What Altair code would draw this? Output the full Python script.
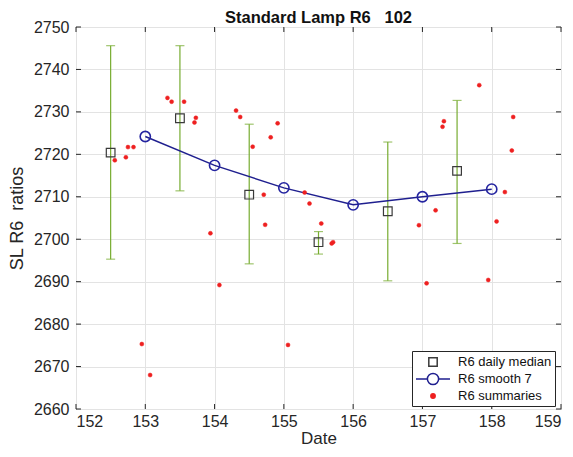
import altair as alt
import pandas as pd

# Daily medians with error bars
median_x = [152.5, 153.5, 154.5, 155.5, 156.5, 157.5]
median_y = [2720.4, 2728.5, 2710.5, 2699.3, 2706.6, 2716.1]
err_lo = [2695.3, 2711.4, 2694.2, 2696.5, 2690.2, 2699.0]
err_hi = [2745.6, 2745.6, 2727.1, 2701.8, 2722.9, 2732.7]

# Smooth 7
smooth_x = [153, 154, 155, 156, 157, 158]
smooth_y = [2724.2, 2717.4, 2712.1, 2708.1, 2710.0, 2711.8]

# Summaries
summ_x = [152.56, 152.72, 152.75, 152.83, 152.95, 153.07, 153.32, 153.38, 153.56,
          153.71, 153.73, 153.94, 154.07, 154.31, 154.37, 154.55, 154.71, 154.73,
          154.81, 154.91, 155.06, 155.30, 155.37, 155.54, 155.69, 155.71, 156.95,
          157.06, 157.19, 157.29, 157.31, 157.82, 157.95, 158.07, 158.19, 158.29,
          158.31]
summ_y = [2718.6, 2719.3, 2721.7, 2721.7, 2675.3, 2668.0, 2733.3, 2732.4, 2732.4,
          2727.5, 2728.6, 2701.4, 2689.2, 2730.3, 2728.8, 2721.8, 2710.5, 2703.4,
          2724.0, 2727.3, 2675.1, 2711.0, 2708.4, 2703.7, 2699.0, 2699.3, 2703.3,
          2689.6, 2706.8, 2726.5, 2727.8, 2736.3, 2690.4, 2704.2, 2711.1, 2720.9,
          2728.8]

x_ticks = [152, 153, 154, 155, 156, 157, 158, 159]
y_ticks = [2660, 2670, 2680, 2690, 2700, 2710, 2720, 2730, 2740, 2750]

series_names = ["R6 daily median", "R6 smooth 7", "R6 summaries"]

W, H = 485, 382
FONT = "Liberation Sans"
AX = "#262626"
NB = "\u00a0"
C_MED = "#3a3a3a"
C_SM_LINE = "#1f1f8f"
C_SM_PT = "#2424a0"
C_RED = "#ee2020"
C_ERR = "#77ac30"

med_df = pd.DataFrame({"x": median_x, "y": median_y, "lo": err_lo, "hi": err_hi})
sm_df = pd.DataFrame({"x": smooth_x, "y": smooth_y})
su_df = pd.DataFrame({"x": summ_x, "y": summ_y})
leg_df = pd.DataFrame({"series": series_names})
xt_df = pd.DataFrame({"t": x_ticks})
yt_df = pd.DataFrame({"t": y_ticks})

xscale = alt.Scale(domain=[152, 159], nice=False, zero=False)
yscale = alt.Scale(domain=[2660, 2750], nice=False, zero=False)

xax = alt.Axis(values=x_ticks, format="d", grid=True, gridColor="#e3e3e3",
               ticks=False, labelFontSize=16, labelColor=AX, labelPadding=4,
               titleFontSize=17, titleColor=AX, titleFontWeight="normal",
               domain=False, labelFont=FONT, titleFont=FONT, titlePadding=1)
yax = alt.Axis(values=y_ticks, format="d", grid=True, gridColor="#e3e3e3",
               ticks=False, labelFontSize=16, labelColor=AX, labelPadding=7,
               titleFontSize=18, titleColor=AX, titleFontWeight="normal",
               domain=False, labelFont=FONT, titleFont=FONT, titlePadding=7)

X = alt.X("x:Q", scale=xscale, axis=xax, title="Date")
Y = alt.Y("y:Q", scale=yscale, axis=yax, title="SL R6" + NB + NB + "ratios")

# legend-only symbols (unit = half of the 14px legend symbol box)
L_SQUARE = "M0.83,-0.6H2.03V0.6H0.83Z"
L_LINE_CIRCLE = ("M-1,0L0.63,0M2.23,0L3.86,0M2.23,0A0.8,0.8,0,1,1,0.63,0"
                 "A0.8,0.8,0,1,1,2.23,0Z")
L_DOT = "M1.74,0A0.31,0.31,0,1,1,1.12,0A0.31,0.31,0,1,1,1.74,0Z"

legend_layer = alt.Chart(leg_df).mark_point(opacity=0, strokeWidth=1.5).encode(
    shape=alt.Shape("series:N", scale=alt.Scale(
        domain=series_names, range=[L_SQUARE, L_LINE_CIRCLE, L_DOT]),
        legend=alt.Legend(title=None)),
    stroke=alt.Stroke("series:N", scale=alt.Scale(
        domain=series_names, range=[C_MED, C_SM_LINE, C_RED]),
        legend=alt.Legend(title=None)),
    fill=alt.Fill("series:N", scale=alt.Scale(
        domain=series_names, range=["transparent", "transparent", C_RED]),
        legend=alt.Legend(title=None)),
)

errbars = alt.Chart(med_df).mark_rule(color=C_ERR, strokeWidth=1.2).encode(
    x=X, y=alt.Y("lo:Q", scale=yscale), y2="hi:Q")
cap_lo = alt.Chart(med_df).mark_tick(color=C_ERR, orient="horizontal",
                                      size=9, thickness=1.2).encode(
    x=X, y=alt.Y("lo:Q", scale=yscale))
cap_hi = alt.Chart(med_df).mark_tick(color=C_ERR, orient="horizontal",
                                      size=9, thickness=1.2).encode(
    x=X, y=alt.Y("hi:Q", scale=yscale))

squares = alt.Chart(med_df).mark_point(filled=False, shape="square", size=75,
                                        color=C_MED, strokeWidth=1.2,
                                        opacity=1).encode(x=X, y=Y)

line = alt.Chart(sm_df).mark_line(color=C_SM_LINE, strokeWidth=1.5).encode(x=X, y=Y)
circles = alt.Chart(sm_df).mark_point(filled=False, shape="circle", size=105,
                                      color=C_SM_PT, strokeWidth=1.6,
                                      opacity=1).encode(x=X, y=Y)

summ = alt.Chart(su_df).mark_point(filled=True, shape="circle", size=16,
                                   color=C_RED, stroke=C_RED, strokeWidth=0.5,
                                   opacity=1).encode(x=X, y=Y)

tick_col = AX
bot_ticks = alt.Chart(xt_df).mark_rule(color=tick_col).encode(
    x=alt.X("t:Q", scale=xscale), y=alt.value(H), y2=alt.value(H - 5))
top_ticks = alt.Chart(xt_df).mark_rule(color=tick_col).encode(
    x=alt.X("t:Q", scale=xscale), y=alt.value(0), y2=alt.value(5))
left_ticks = alt.Chart(yt_df).mark_rule(color=tick_col).encode(
    y=alt.Y("t:Q", scale=yscale), x=alt.value(0), x2=alt.value(5))
right_ticks = alt.Chart(yt_df).mark_rule(color=tick_col).encode(
    y=alt.Y("t:Q", scale=yscale), x=alt.value(W), x2=alt.value(W - 5))

chart = alt.layer(
    errbars, cap_lo, cap_hi, line, circles, summ, squares,
    bot_ticks, top_ticks, left_ticks, right_ticks, legend_layer
).properties(
    width=W, height=H,
    title=alt.Title("Standard Lamp R6" + NB + NB + NB + "102", fontSize=16.5,
                    fontWeight="bold", font=FONT, color="#111111", offset=0, dy=7),
    autosize=alt.AutoSizeParams(type="none"),
    padding={"left": 68, "top": 19, "right": 4, "bottom": 40},
).configure_view(
    stroke=AX, strokeWidth=1
).configure_legend(
    orient="none", legendX=336, legendY=324, strokeColor=AX, fillColor="white",
    padding=3, labelFontSize=13, labelFont=FONT, labelColor="#111111",
    rowPadding=0, symbolStrokeWidth=1.5, labelOffset=27, cornerRadius=0,
    symbolSize=196, symbolOpacity=1
)

chart.save("out.html", embed_options={"renderer": "svg", "actions": False})
